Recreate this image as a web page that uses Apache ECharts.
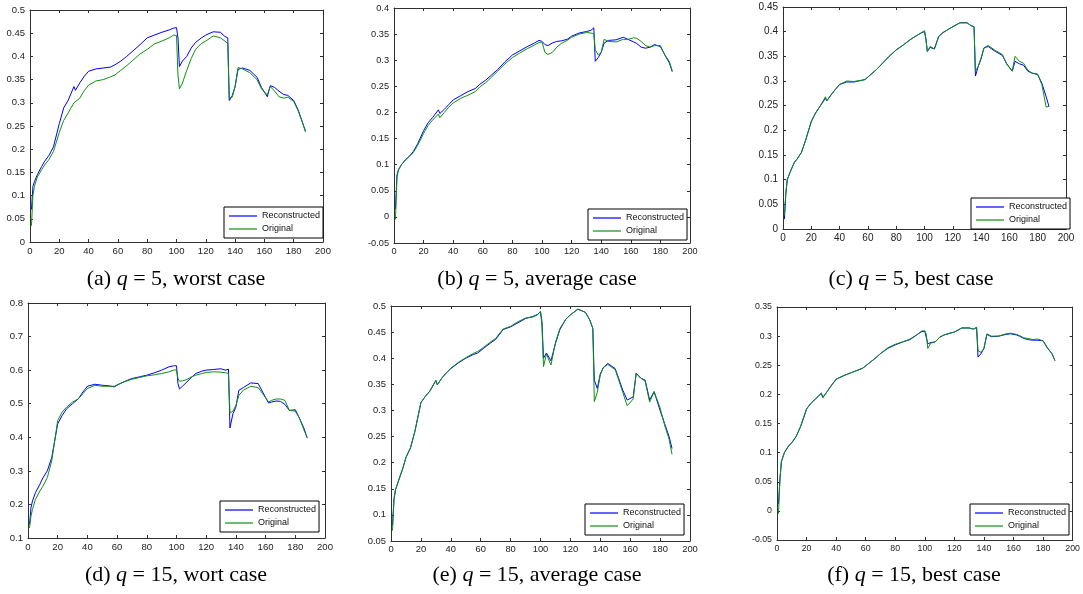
<!DOCTYPE html>
<html><head><meta charset="utf-8">
<script src="https://cdn.jsdelivr.net/npm/echarts@6/dist/echarts.min.js"></script>
<style>html,body{margin:0;padding:0;background:#fff}#c{width:1083px;height:594px}</style>
</head><body><div id="c"></div>
<script>
// shared sample positions (iteration index)
const X = [1,2,3,5,8,10,13,16,20,23, 26,30,31,34,37,40,45,50,55,58, 62,66,70,75,80,85,90,95,98,100, 101,102,104,107,110,113,117,120,125,130, 133,135,136,138,140,142,145,150,155,158, 162,164,167,170,173,176,180,183,186,188];

// (a) q = 5, worst case
const aRec = [0.07,0.12,0.13,0.145,0.163,0.174,0.187,0.205,0.255,0.289, 0.305,0.335,0.327,0.343,0.357,0.368,0.373,0.375,0.377,0.382, 0.39,0.4,0.411,0.425,0.44,0.446,0.452,0.457,0.461,0.462, 0.44,0.378,0.39,0.4,0.418,0.43,0.44,0.446,0.453,0.452, 0.443,0.44,0.305,0.315,0.335,0.372,0.375,0.37,0.355,0.333, 0.313,0.337,0.333,0.325,0.318,0.316,0.305,0.285,0.257,0.24];
const aOrig = [0.035,0.1,0.12,0.14,0.156,0.166,0.178,0.195,0.236,0.262, 0.278,0.3,0.298,0.31,0.326,0.338,0.347,0.35,0.356,0.36, 0.37,0.38,0.391,0.405,0.415,0.427,0.433,0.44,0.446,0.445, 0.36,0.33,0.342,0.37,0.395,0.415,0.428,0.433,0.444,0.44, 0.433,0.428,0.31,0.312,0.335,0.376,0.373,0.365,0.35,0.33, 0.317,0.335,0.325,0.313,0.31,0.312,0.303,0.283,0.258,0.237];

// (b) q = 5, average case
const bRec = [0.015,0.08,0.09,0.1,0.11,0.115,0.125,0.14,0.165,0.18, 0.19,0.205,0.198,0.206,0.215,0.224,0.232,0.24,0.246,0.254, 0.262,0.272,0.282,0.297,0.31,0.318,0.326,0.333,0.338,0.336, 0.338,0.33,0.328,0.333,0.336,0.337,0.34,0.346,0.352,0.355, 0.357,0.362,0.298,0.305,0.315,0.333,0.338,0.339,0.344,0.34, 0.335,0.332,0.325,0.323,0.325,0.33,0.326,0.31,0.295,0.278];
const bOrig = [-0.005,0.075,0.09,0.1,0.11,0.115,0.123,0.137,0.16,0.175, 0.185,0.197,0.19,0.2,0.21,0.218,0.227,0.233,0.24,0.249, 0.257,0.268,0.279,0.293,0.305,0.314,0.322,0.329,0.334,0.335, 0.325,0.315,0.311,0.315,0.325,0.332,0.338,0.344,0.35,0.353, 0.352,0.351,0.32,0.31,0.315,0.34,0.336,0.335,0.34,0.34, 0.343,0.342,0.336,0.328,0.325,0.328,0.328,0.31,0.298,0.28];

// (c) q = 5, best case
const cRec = [0.02,0.07,0.1,0.115,0.135,0.142,0.155,0.18,0.218,0.235, 0.248,0.265,0.26,0.272,0.283,0.293,0.298,0.298,0.301,0.303, 0.313,0.323,0.335,0.35,0.363,0.373,0.384,0.393,0.398,0.4, 0.385,0.36,0.368,0.365,0.39,0.398,0.405,0.41,0.418,0.418, 0.412,0.41,0.31,0.33,0.345,0.367,0.37,0.36,0.352,0.335, 0.32,0.34,0.335,0.332,0.32,0.316,0.313,0.295,0.268,0.248];
const cOrig = [0.028,0.075,0.1,0.115,0.135,0.142,0.155,0.18,0.218,0.235, 0.248,0.268,0.26,0.272,0.283,0.293,0.3,0.299,0.301,0.303, 0.313,0.323,0.335,0.35,0.363,0.373,0.384,0.393,0.398,0.402, 0.385,0.36,0.37,0.365,0.39,0.398,0.405,0.41,0.418,0.418, 0.412,0.41,0.32,0.33,0.347,0.367,0.372,0.362,0.354,0.335, 0.32,0.35,0.34,0.336,0.322,0.316,0.314,0.292,0.247,0.249];

// (d) q = 15, wort case
const dRec = [0.14,0.19,0.21,0.235,0.26,0.279,0.3,0.34,0.44,0.465, 0.485,0.5,0.497,0.515,0.535,0.552,0.558,0.555,0.553,0.55, 0.56,0.568,0.575,0.58,0.585,0.592,0.6,0.61,0.613,0.613, 0.56,0.544,0.552,0.565,0.578,0.59,0.597,0.6,0.602,0.604, 0.6,0.603,0.428,0.47,0.49,0.54,0.548,0.562,0.56,0.535, 0.502,0.505,0.508,0.507,0.498,0.48,0.482,0.455,0.425,0.398];
const dOrig = [0.13,0.165,0.185,0.215,0.24,0.254,0.28,0.33,0.45,0.475, 0.49,0.505,0.5,0.515,0.53,0.545,0.555,0.552,0.552,0.552, 0.56,0.567,0.573,0.578,0.583,0.586,0.59,0.595,0.6,0.601, 0.575,0.567,0.568,0.572,0.58,0.585,0.59,0.593,0.595,0.594, 0.592,0.59,0.472,0.478,0.495,0.525,0.54,0.552,0.548,0.53, 0.505,0.51,0.514,0.514,0.51,0.48,0.478,0.455,0.42,0.4];

// (e) q = 15, average case
const eRec = [0.08,0.13,0.148,0.165,0.19,0.21,0.228,0.26,0.315,0.327, 0.337,0.357,0.349,0.362,0.372,0.38,0.391,0.4,0.407,0.41, 0.419,0.428,0.436,0.455,0.46,0.468,0.476,0.48,0.484,0.489, 0.47,0.4,0.41,0.395,0.428,0.455,0.475,0.483,0.494,0.488, 0.473,0.457,0.358,0.342,0.37,0.382,0.39,0.38,0.339,0.32, 0.326,0.371,0.362,0.358,0.32,0.336,0.3,0.275,0.25,0.227];
const eOrig = [0.07,0.13,0.148,0.165,0.19,0.21,0.228,0.26,0.315,0.327, 0.337,0.358,0.349,0.362,0.372,0.381,0.392,0.401,0.409,0.413, 0.421,0.43,0.438,0.456,0.461,0.47,0.477,0.479,0.483,0.49, 0.46,0.384,0.408,0.387,0.43,0.457,0.475,0.483,0.494,0.488, 0.473,0.457,0.317,0.335,0.368,0.382,0.388,0.378,0.335,0.309, 0.322,0.371,0.362,0.356,0.316,0.336,0.305,0.272,0.245,0.216];

// (f) q = 15, best case
const fRec = [0.012,0.055,0.085,0.1,0.112,0.117,0.128,0.145,0.175,0.185, 0.192,0.202,0.195,0.205,0.216,0.226,0.232,0.237,0.242,0.245, 0.253,0.261,0.27,0.279,0.285,0.29,0.294,0.303,0.308,0.308, 0.305,0.287,0.289,0.29,0.298,0.302,0.305,0.307,0.314,0.314, 0.312,0.315,0.264,0.27,0.279,0.303,0.299,0.3,0.303,0.304, 0.302,0.3,0.296,0.294,0.293,0.293,0.292,0.279,0.27,0.258];
const fOrig = [-0.005,0.055,0.085,0.1,0.112,0.117,0.128,0.145,0.175,0.185, 0.192,0.202,0.194,0.205,0.216,0.226,0.232,0.237,0.242,0.245, 0.253,0.261,0.27,0.28,0.286,0.29,0.295,0.303,0.309,0.309, 0.303,0.279,0.288,0.29,0.298,0.302,0.305,0.307,0.314,0.314, 0.312,0.315,0.275,0.272,0.279,0.304,0.3,0.3,0.304,0.305, 0.303,0.301,0.297,0.296,0.294,0.295,0.292,0.28,0.27,0.258];

const recSets = [aRec, bRec, cRec, dRec, eRec, fRec];
const origSets = [aOrig, bOrig, cOrig, dOrig, eOrig, fOrig];
const seriesNames = ['Reconstructed', 'Original'];

// axis ranges / tick steps
const xMin = 0, xMax = 200, xStep = 20;
const yMin = [0, -0.05, 0, 0.1, 0.05, -0.05];
const yMax = [0.5, 0.4, 0.45, 0.8, 0.5, 0.35];
const yStep = [0.05, 0.05, 0.05, 0.1, 0.05, 0.05];

// captions
const capLetter = ['(a)', '(b)', '(c)', '(d)', '(e)', '(f)'];
const capQ = ['5', '5', '5', '15', '15', '15'];
const capCase = ['worst case', 'average case', 'best case', 'wort case', 'average case', 'best case'];

// layout (pixels)
const layout = [
  {l: 30,  t: 10,  w: 293, h: 232, lg: [224, 207], cap: [176, 281], fs: 9.5},
  {l: 394, t: 8,   w: 296, h: 235, lg: [588, 209], cap: [537, 281], fs: 9.2},
  {l: 783, t: 7,   w: 283, h: 222, lg: [971, 198], cap: [911, 281], fs: 10},
  {l: 28,  t: 303, w: 297, h: 235, lg: [220, 501], cap: [176, 577], fs: 9.6},
  {l: 391, t: 306, w: 299, h: 235, lg: [585, 504], cap: [537, 577], fs: 9.4},
  {l: 777, t: 307, w: 296, h: 233, lg: [970, 504], cap: [914, 577], fs: 8.8}
];

const BLUE = '#0000ff', GREEN = '#109010', AX = '#303030';

const grid = [], xAxis = [], yAxis = [], series = [], legend = [], title = [];
layout.forEach((L, i) => {
  grid.push({left: L.l, top: L.t, width: L.w, height: L.h, containLabel: false});
  const tick = {show: true, inside: true, length: 3, lineStyle: {color: AX, width: 1}};
  const line = {show: true, onZero: false, lineStyle: {color: AX, width: 1}};
  xAxis.push({type: 'value', gridIndex: i, min: xMin, max: xMax, interval: xStep, position: 'bottom',
    axisLine: line, axisTick: tick, splitLine: {show: false},
    axisLabel: {margin: 4, fontSize: L.fs, color: '#222', fontFamily: 'Liberation Sans'}});
  xAxis.push({type: 'value', gridIndex: i, min: xMin, max: xMax, interval: xStep, position: 'top',
    axisLine: line, axisTick: tick, splitLine: {show: false}, axisLabel: {show: false}});
  yAxis.push({type: 'value', gridIndex: i, min: yMin[i], max: yMax[i], interval: yStep[i], position: 'left',
    axisLine: line, axisTick: tick, splitLine: {show: false},
    axisLabel: {margin: 5, fontSize: L.fs, color: '#222', fontFamily: 'Liberation Sans'}});
  yAxis.push({type: 'value', gridIndex: i, min: yMin[i], max: yMax[i], interval: yStep[i], position: 'right',
    axisLine: line, axisTick: tick, splitLine: {show: false}, axisLabel: {show: false}});
  [recSets[i], origSets[i]].forEach((arr, k) => {
    const col = k === 0 ? BLUE : GREEN;
    series.push({type: 'line', name: seriesNames[k], xAxisIndex: 2 * i, yAxisIndex: 2 * i,
      data: X.map((x, j) => [x, arr[j]]), symbol: 'none', showSymbol: false,
      lineStyle: {width: 1, color: col}, itemStyle: {color: col}, z: 2 + k});
  });
  legend.push({data: seriesNames, orient: 'vertical', left: L.lg[0], top: L.lg[1],
    icon: 'rect', itemWidth: 28, itemHeight: 1.2, itemGap: 3, padding: [4, 3, 4, 5],
    backgroundColor: '#fff', borderColor: '#000', borderWidth: 1, borderRadius: 0,
    textStyle: {fontSize: 9, color: '#111', fontFamily: 'Liberation Sans', lineHeight: 10},
    selectedMode: false});
  title.push({text: capLetter[i] + ' {q|q} = ' + capQ[i] + ', ' + capCase[i],
    left: L.cap[0], top: L.cap[1] - 13, textAlign: 'center', padding: 0,
    textStyle: {fontFamily: 'Liberation Serif', fontSize: 22, fontWeight: 'normal', color: '#000',
      rich: {q: {fontFamily: 'Liberation Serif', fontSize: 22, fontStyle: 'italic', color: '#000'}}}});
});

const chart = echarts.init(document.getElementById('c'), null, {renderer: 'canvas'});
chart.setOption({animation: false, backgroundColor: '#fff', grid, xAxis, yAxis, series, legend, title});
</script></body></html>
